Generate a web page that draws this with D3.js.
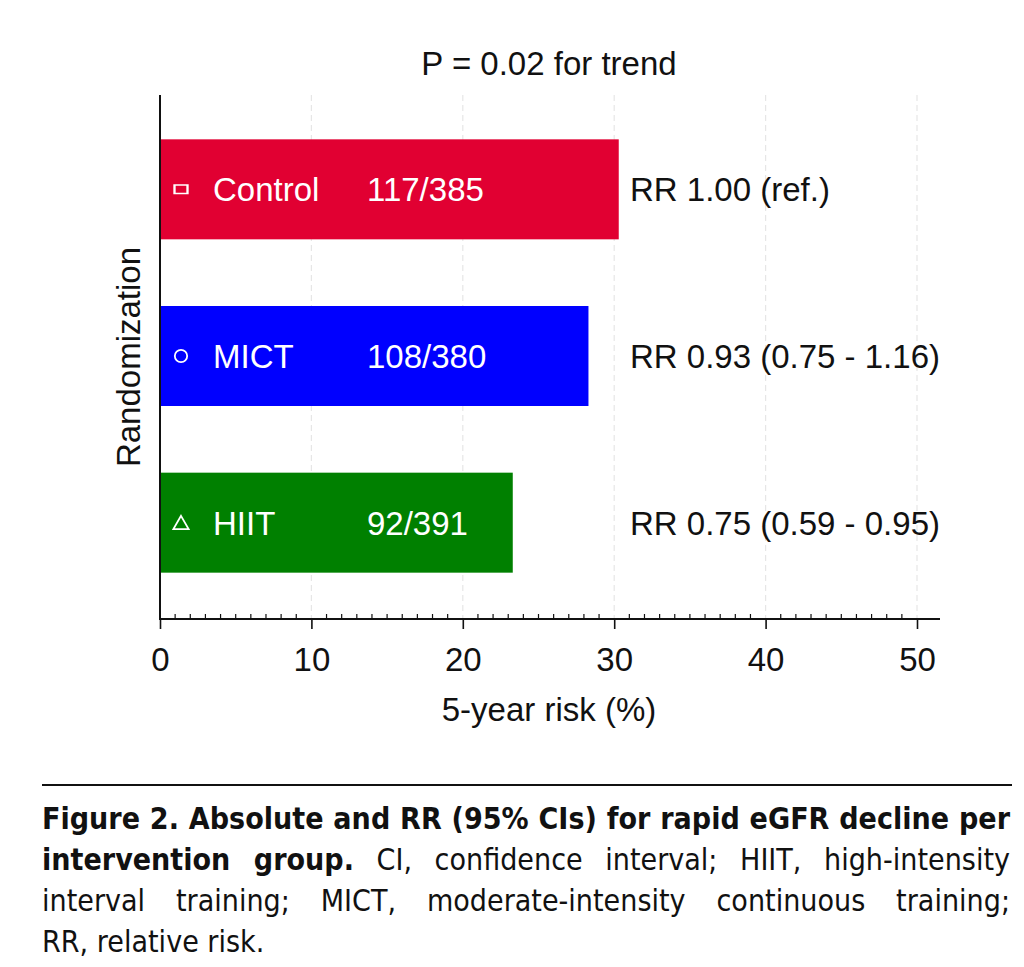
<!DOCTYPE html>
<html>
<head>
<meta charset="utf-8">
<script src="https://cdn.jsdelivr.net/npm/d3@7"></script>
<style>
  body { margin:0; background:#fff; }
  svg text { font-family: "Liberation Sans", Arial, sans-serif; }
</style>
</head>
<body>
<svg id="chart" width="1024" height="967"></svg>
<script>
// -- data
var groups = ["Control", "MICT", "HIIT"];
var risk = [30.3, 28.3, 23.3];
var counts = ["117/385", "108/380", "92/391"];
var rrLabels = ["RR 1.00 (ref.)", "RR 0.93 (0.75 - 1.16)", "RR 0.75 (0.59 - 0.95)"];
var markers = ["square", "circle", "triangle"];
var barColors = ["#e10032", "#0000ff", "#008000"];
var xTicks = [0, 10, 20, 30, 40, 50];

var svg = d3.select("#chart");
var fs = "33px";

var x = d3.scaleLinear().domain([0, 50]).range([160, 917]);
var y = d3.scaleBand().domain(groups).range([106, 606]).paddingInner(0.4).paddingOuter(0.2);

// -- grid
svg.append("g").selectAll("line").data(xTicks.slice(1)).enter().append("line")
    .attr("x1", function(d){return x(d);}).attr("x2", function(d){return x(d);})
    .attr("y1", 95).attr("y2", 619)
    .style("stroke", "#e6e6e6").style("stroke-width", 1.2).style("stroke-dasharray", "6,4");

// -- bars
var rows = svg.append("g").selectAll(".row").data(groups).enter().append("g").attr("class", "row");

rows.append("rect")
    .attr("x", x(0))
    .attr("y", function(d){return y(d);})
    .attr("width", function(d,i){return x(risk[i]) - x(0);})
    .attr("height", y.bandwidth())
    .style("fill", function(d,i){return barColors[i];});

var symType = {square: d3.symbolSquare, circle: d3.symbolCircle, triangle: d3.symbolTriangle};
rows.append("path")
    .attr("d", function(d,i){
        var s = markers[i]=="triangle" ? 100 : (markers[i]=="square" ? 100 : 120);
        return d3.symbol().type(symType[markers[i]]).size(s)();
    })
    .attr("transform", function(d,i){
        var yy = y(d) + y.bandwidth()/2 + (markers[i]=="triangle" ? 2 : 0);
        var sc = markers[i]=="square" ? "scale(1.3,0.85)" : "";
        return "translate(181," + yy + ")" + sc;
    })
    .style("fill", "none").style("stroke", "#fff").style("stroke-width", 1.8);

rows.append("text")
    .attr("x", 213).attr("y", function(d){return y(d) + y.bandwidth()/2 + 12;})
    .style("fill", "#fff").style("font-size", fs)
    .text(function(d){return d;});

rows.append("text")
    .attr("x", 367).attr("y", function(d){return y(d) + y.bandwidth()/2 + 12;})
    .style("fill", "#fff").style("font-size", fs)
    .text(function(d,i){return counts[i];});

rows.append("text")
    .attr("x", 630).attr("y", function(d){return y(d) + y.bandwidth()/2 + 12;})
    .style("fill", "#111").style("font-size", fs)
    .text(function(d,i){return rrLabels[i];});

// -- axes
var axisY = 619;
svg.append("line").attr("x1", 160).attr("x2", 160).attr("y1", 95).attr("y2", axisY)
    .style("stroke", "#111").style("stroke-width", 2);
svg.append("line").attr("x1", 159).attr("x2", 940).attr("y1", axisY).attr("y2", axisY)
    .style("stroke", "#111").style("stroke-width", 2);

// minor ticks point up
svg.append("g").selectAll("line").data(d3.range(1, 50).filter(function(d){return d % 10 != 0;}))
    .enter().append("line")
    .attr("x1", function(d){return x(d);}).attr("x2", function(d){return x(d);})
    .attr("y1", axisY).attr("y2", axisY - 5)
    .style("stroke", "#111").style("stroke-width", 1.2);

var xAxis = d3.axisBottom(x).tickValues(xTicks).tickSize(10).tickPadding(19).tickFormat(d3.format("d"));
var gx = svg.append("g").attr("transform", "translate(0," + axisY + ")").call(xAxis);
gx.select(".domain").remove();
gx.selectAll(".tick line").style("stroke", "#111").style("stroke-width", 1.6);
gx.selectAll(".tick text").style("font-size", fs).style("fill", "#111")
    .style("font-family", "'Liberation Sans', Arial, sans-serif");

// -- titles
svg.append("text").attr("x", 549).attr("y", 75).attr("text-anchor", "middle")
    .style("font-size", fs).style("fill", "#111").text("P = 0.02 for trend");
svg.append("text").attr("x", 549).attr("y", 721).attr("text-anchor", "middle")
    .style("font-size", fs).style("fill", "#111").text("5-year risk (%)");
svg.append("text").attr("transform", "translate(140,357) rotate(-90)").attr("text-anchor", "middle")
    .style("font-size", fs).style("fill", "#111").text("Randomization");

// -- caption
svg.append("line").attr("x1", 42).attr("x2", 1012).attr("y1", 785).attr("y2", 785)
    .style("stroke", "#111").style("stroke-width", 2);

var captionLines = [
    [["Figure 2. Absolute and RR (95% CIs) for rapid eGFR decline per", true]],
    [["intervention group.", true], [" CI, confidence interval; HIIT, high-intensity", false]],
    [["interval training; MICT, moderate-intensity continuous training;", false]],
    [["RR, relative risk.", false]]
];
var capLeft = 42, capRight = 1010;
var cap = svg.append("g");
var capTexts = captionLines.map(function(parts, li){
    var t = cap.append("text").attr("y", 829 + li*41)
        .style("font-family", "'DejaVu Sans', sans-serif")
        .style("font-size", "31px").style("fill", "#111");
    var nSpaces = 0;
    parts.forEach(function(p){
        t.append("tspan").style("font-weight", p[1] ? "bold" : "normal").text(p[0]);
        nSpaces += (p[0].match(/ /g) || []).length;
    });
    return {t: t, n: nSpaces};
});
// squeeze horizontally so the bold first line fits with normal spacing
var w0 = capTexts[0].t.node().getComputedTextLength();
var sx = (capRight - capLeft - 4) / w0;
cap.attr("transform", "translate(" + capLeft + ",0) scale(" + sx + ",1)");
capTexts.forEach(function(c, li){
    c.t.attr("x", 0);
    if (li < capTexts.length - 1 && c.n > 0){
        var w = c.t.node().getComputedTextLength();
        c.t.attr("word-spacing", ((capRight - capLeft) / sx - w) / c.n);
    }
});
</script>
</body>
</html>
